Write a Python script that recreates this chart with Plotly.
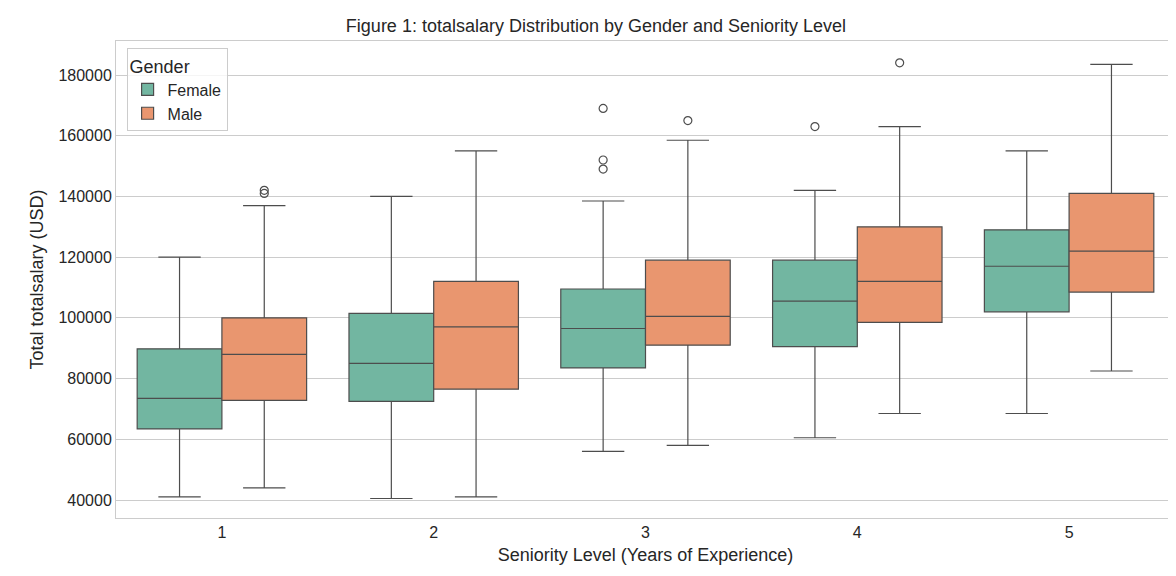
import plotly.graph_objects as go

levels = [1, 2, 3, 4, 5]
genders = ["Female", "Male"]
colors = {"Female": "#72b6a1", "Male": "#e9966f"}
stats = {
    "Female": dict(low=[41000, 40500, 56000, 60500, 68500], q1=[63400, 72500, 83500, 90500, 102000],
                   med=[73500, 85000, 96500, 105500, 117000], q3=[89800, 101500, 109500, 119000, 129000],
                   high=[120000, 140000, 138500, 142000, 155000]),
    "Male": dict(low=[44000, 41000, 58000, 68500, 82500], q1=[72800, 76500, 91000, 98500, 108500],
                 med=[88000, 97000, 100500, 112000, 122000], q3=[100000, 112000, 119000, 130000, 141000],
                 high=[137000, 155000, 158500, 163000, 183500]),
}
outliers = {
    "Female": [(3, 169000), (3, 152000), (3, 149000), (4, 163000)],
    "Male": [(1, 142000), (1, 141000), (3, 165000), (4, 184000)],
}
offset = {"Female": -0.2, "Male": 0.2}

fig = go.Figure()
for g in genders:
    s = stats[g]
    xs = [l + offset[g] for l in levels]
    fig.add_trace(go.Box(
        x=xs, q1=s["q1"], median=s["med"], q3=s["q3"], lowerfence=s["low"], upperfence=s["high"],
        name=g, width=0.4, fillcolor=colors[g], line=dict(color="#4d4d4d", width=1.2),
        whiskerwidth=0.5, boxpoints=False, legendgroup=g))
    fig.add_trace(go.Scatter(
        x=[o[0] + offset[g] for o in outliers[g]], y=[o[1] for o in outliers[g]], mode="markers",
        marker=dict(symbol="circle-open", size=8, color="#4d4d4d", line=dict(width=1.2)),
        showlegend=False, legendgroup=g, hoverinfo="y"))

fig.update_layout(
    width=1176, height=576, paper_bgcolor="white", plot_bgcolor="white",
    margin=dict(l=108, r=9, t=33, b=66, autoexpand=False), boxmode="overlay",
    font=dict(family="Liberation Sans, Arial, sans-serif", size=16, color="#262626"),
    title=dict(text="Figure 1: totalsalary Distribution by Gender and Seniority Level",
               x=0.5, xanchor="center", y=0.969, yanchor="middle", font=dict(size=18)),
    legend=dict(title=dict(text="Gender", font=dict(size=18)), x=0.01, y=0.985, xanchor="left", yanchor="top",
                bordercolor="#cccccc", borderwidth=1, bgcolor="rgba(255,255,255,0.8)", font=dict(size=16),
                tracegroupgap=0, itemwidth=30),
)
fig.update_xaxes(range=[0.5, 5.5], tickvals=levels, ticktext=[str(l) for l in levels], automargin=False,
                 title=dict(text="Seniority Level (Years of Experience)", font=dict(size=18), standoff=8),
                 showgrid=False, showline=True, linecolor="#cccccc", mirror=True, zeroline=False, ticks="")
fig.update_yaxes(range=[34070, 191200], tickvals=list(range(40000, 200000, 20000)), automargin=False,
                 tickformat="d", title=dict(text="Total totalsalary (USD)", font=dict(size=18), standoff=10),
                 showgrid=True, gridcolor="#cccccc", showline=True, linecolor="#cccccc", mirror=True,
                 zeroline=False, ticks="")
fig.write_html("out.html")
